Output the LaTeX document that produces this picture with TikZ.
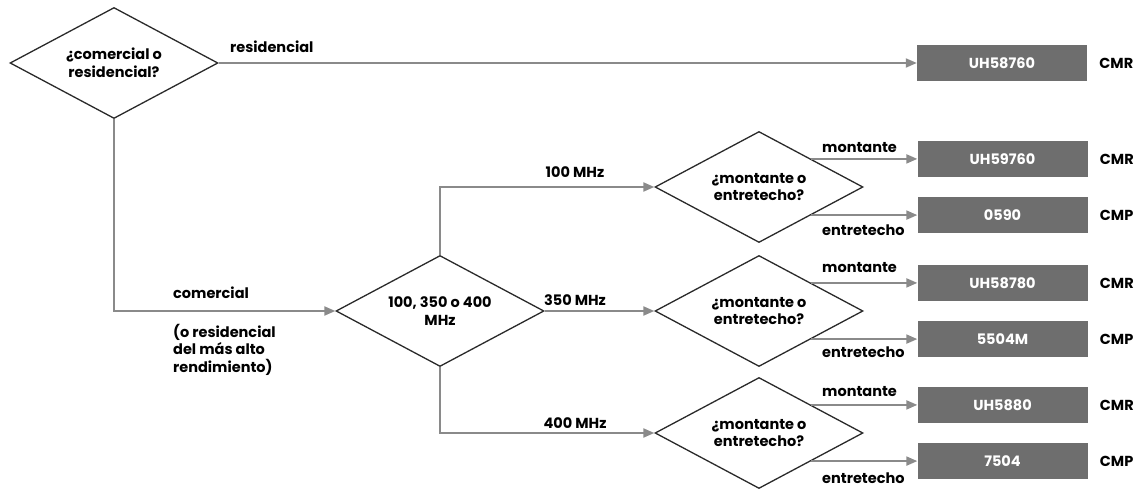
\documentclass[tikz,border=0pt]{standalone}
\usepackage{fontspec}
\setmainfont{Poppins}
\usetikzlibrary{shapes.geometric,arrows.meta,positioning}
\definecolor{linegray}{HTML}{8A8A8A}
\definecolor{boxgray}{HTML}{6E6E6E}
\definecolor{edgegray}{HTML}{2A2A2A}
\tikzset{
  choice/.style={diamond,aspect=1.87,draw=edgegray,line width=1.3pt,fill=white,inner sep=0pt,
    minimum width=208pt,minimum height=111pt,align=center},
  part/.style={rectangle,fill=boxgray,text=white,minimum width=170pt,minimum height=36pt},
  lbl/.style={inner sep=0pt,align=left},
  conn/.style={draw=linegray,line width=2pt,-{Triangle[length=11pt,width=9pt]}}
}
\begin{document}
\begin{tikzpicture}[x=1pt,y=-1pt,font=\fontsize{14.5}{17.5}\selectfont\bfseries]
  \useasboundingbox (0,0) rectangle (1138,489);
  \draw
    (114,63) node[choice] (use){¿comercial o\\residencial?}
    (440,311) node[choice] (speed){100, 350 o 400\\MHz}
    (759,187) node[choice] (r100){¿montante o\\entretecho?}
    (759,311) node[choice] (r350){¿montante o\\entretecho?}
    (759,433) node[choice] (r400){¿montante o\\entretecho?}
    (1002,63) node[part] (p0){UH58760};
  % cables
  \node[part, right=106pt of r100.north east] (p1){UH59760};
  \node[part, right=106pt of r100.south east] (p2){0590};
  \node[part, right=106pt of r350.north east] (p3){UH58780};
  \node[part, right=106pt of r350.south east] (p4){5504M};
  \node[part, right=106pt of r400.north east] (p5){UH5880};
  \node[part, right=106pt of r400.south east] (p6){7504};
  % ratings
  \node[lbl, right=12pt of p0] (c0){CMR};
  \node[lbl, right=12pt of p1] (c1){CMR};
  \node[lbl, right=12pt of p2] (c2){CMP};
  \node[lbl, right=12pt of p3] (c3){CMR};
  \node[lbl, right=12pt of p4] (c4){CMP};
  \node[lbl, right=12pt of p5] (c5){CMR};
  \node[lbl, right=12pt of p6] (c6){CMP};
  % branch labels
  \draw
    (230,47) node[lbl,anchor=west] (lres){residencial}
    (173,293) node[lbl,anchor=west] (lcom){comercial}
    (173,324) node[lbl,anchor=north west] (lnote){(o residencial\\del más alto\\rendimiento)}
    (575,172) node[lbl] (l100){100 MHz}
    (575,300) node[lbl] (l350){350 MHz}
    (575,423) node[lbl] (l400){400 MHz};
  \foreach \r/\a/\b in {r100/148/230, r350/268/352, r400/392/478} {
    \node[lbl,anchor=west] (\r m) at (822,\a) {montante};
    \node[lbl,anchor=west] (\r e) at (822,\b) {entretecho};
  }
  \begin{scope}[conn]
    \draw (use.east) -- (p0);
    \draw (use.south) |- (speed.west);
    \draw (speed.north) |- (r100.west);
    \draw (speed.east) -- (r350.west);
    \draw (speed.south) |- (r400.west);
    \draw (r100.north east) -- (p1);
    \draw (r100.south east) -- (p2);
    \draw (r350.north east) -- (p3);
    \draw (r350.south east) -- (p4);
    \draw (r400.north east) -- (p5);
    \draw (r400.south east) -- (p6);
  \end{scope}
\end{tikzpicture}
\end{document}
